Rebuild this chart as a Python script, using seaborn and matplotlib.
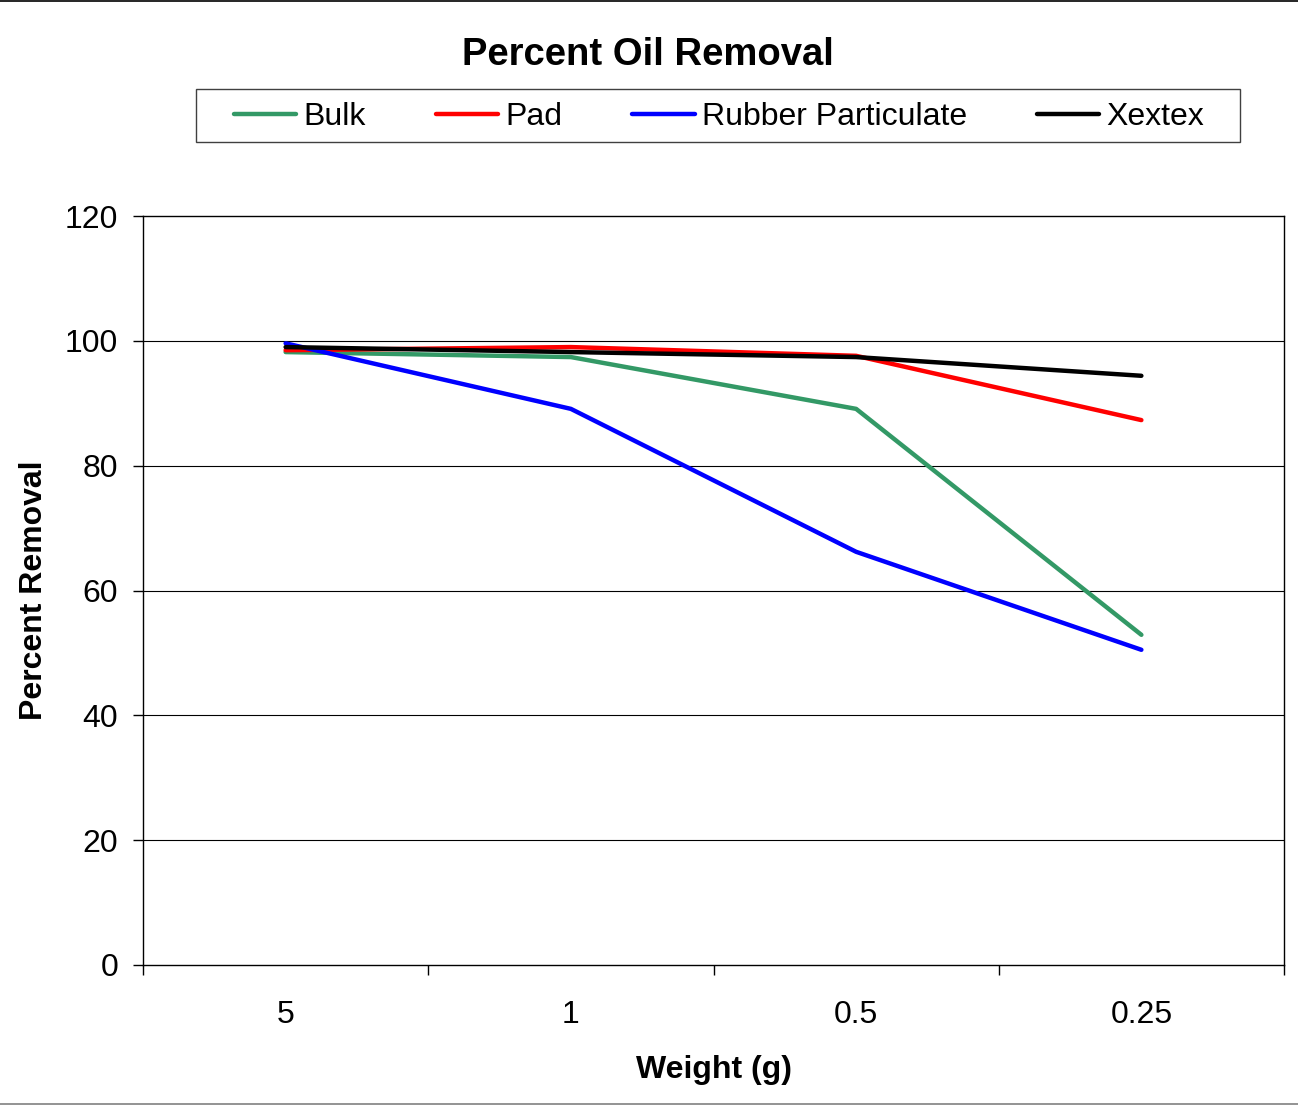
import pandas as pd
import numpy as np
import matplotlib
matplotlib.use('Agg')
import matplotlib.pyplot as plt
import seaborn as sns
from matplotlib.lines import Line2D
from matplotlib.patches import Rectangle

# ── Data ───────────────────────────────────────────────────────────────────────
weights = ['5', '1', '0.5', '0.25']
bulk = [98.2, 97.4, 89.1, 52.9]
pad = [98.5, 99.0, 97.6, 87.3]
rubber = [99.6, 89.1, 66.2, 50.5]
xextex = [99.0, 98.2, 97.4, 94.4]

series_names = ['Bulk', 'Pad', 'Rubber Particulate', 'Xextex']
colors = {'Bulk': '#339966', 'Pad': '#FF0000',
          'Rubber Particulate': '#0000FF', 'Xextex': '#000000'}

df = pd.DataFrame({
    'Weight': weights * 4,
    'Removal': bulk + pad + rubber + xextex,
    'Material': [n for n in series_names for _ in weights],
})

# ── Plot ───────────────────────────────────────────────────────────────────────
sns.set_style('white')
plt.rcParams['font.family'] = ['Liberation Sans', 'DejaVu Sans']
plt.rcParams['text.color'] = 'black'
plt.rcParams['axes.labelcolor'] = 'black'
plt.rcParams['xtick.color'] = 'black'
plt.rcParams['ytick.color'] = 'black'

fig = plt.figure(figsize=(12.98, 11.10), dpi=100)
ax = fig.add_axes([143 / 1298, 1 - 965 / 1110, 1141 / 1298, 749 / 1110])

sns.lineplot(data=df, x='Weight', y='Removal', hue='Material',
             palette=colors, hue_order=series_names, sort=False,
             linewidth=3.2, legend=False, ax=ax)

ax.set_ylim(0, 120)
ax.set_yticks(np.arange(0, 121, 20))
ax.set_xlim(-0.5, 3.5)
ax.set_xticks(np.arange(-0.5, 3.6, 1))
ax.set_xticklabels([])
ax.set_xticks(range(len(weights)), minor=True)
ax.set_xticklabels(weights, minor=True)
ax.tick_params(axis='x', which='minor', bottom=False, length=0, pad=25.5, labelsize=23)
ax.tick_params(axis='x', which='major', bottom=True, direction='out', length=7, width=1)
ax.tick_params(axis='y', left=True, direction='out', length=7, width=1, labelsize=23, pad=11)

for y in range(20, 101, 20):
    ax.axhline(y, color='black', linewidth=0.8, zorder=0)
for s in ax.spines.values():
    s.set_color('black')
    s.set_linewidth(1)

ax.set_xlabel('Weight (g)', fontsize=23, fontweight='bold', labelpad=18)
ax.set_ylabel('Percent Removal', fontsize=23, fontweight='bold', labelpad=11.5)

fig.text(648 / 1298, 1 - 55 / 1110, 'Percent Oil Removal', ha='center', va='center',
         fontsize=27.5, fontweight='bold')

handles = [Line2D([], [], color=colors[n], linewidth=3.2) for n in series_names]
leg = fig.legend(handles, series_names, loc='center',
                 bbox_to_anchor=(719 / 1298, 1 - 117 / 1110), ncol=4,
                 fontsize=23, frameon=False,
                 handlelength=1.95, handletextpad=0.22, columnspacing=2.2,
                 borderpad=0.3, borderaxespad=0)

# legend frame drawn as a box of its own (wider side padding than matplotlib's)
fig.add_artist(Rectangle((196 / 1298, 1 - 142 / 1110), 1044 / 1298, 53 / 1110,
                         transform=fig.transFigure, fill=False,
                         edgecolor='#404040', linewidth=1))

# outer chart border lines
fig.add_artist(Line2D([0, 1], [0.999, 0.999], color='black', linewidth=1.2,
                      transform=fig.transFigure))
fig.add_artist(Line2D([0, 1], [1 - 1104 / 1110] * 2, color='#808080', linewidth=1.2,
                      transform=fig.transFigure))

fig.savefig('out.png', dpi=100)
